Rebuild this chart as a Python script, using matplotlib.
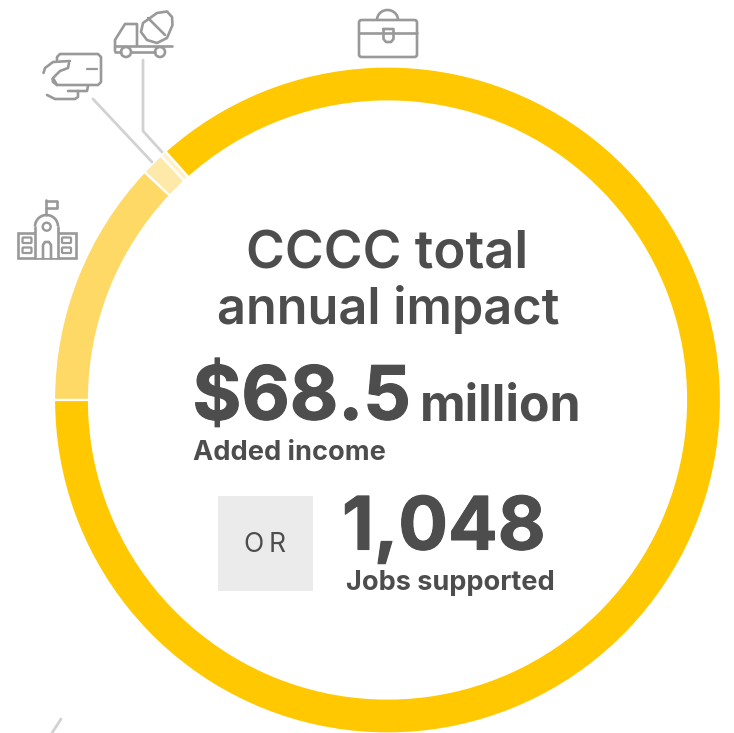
#!/usr/bin/env python
"""CCCC total annual impact: donut ring with icons and headline numbers."""
import matplotlib
matplotlib.use("Agg")
import matplotlib.pyplot as plt
import matplotlib.patheffects as pe
from matplotlib.patches import Arc, Circle, FancyBboxPatch, Polygon, Rectangle

W, H = 734, 733
INK = "#4d4d4d"
ICON = "#999999"
LEAD = "#d2d2d2"

# share of impact, clockwise from 9 o'clock
shares = [12.0, 1.1, 0.3, 86.6]
colors = ["#ffd966", "#ffe9a8", "#fff2c9", "#ffc800"]

plt.rcParams["font.family"] = ["Inter", "DejaVu Sans"]
fig = plt.figure(figsize=(W / 100, H / 100), dpi=100)
fig.patch.set_facecolor("white")

# ring
ax = fig.add_axes([0, 0, 1, 1])
ax.pie(shares, colors=colors, startangle=180, counterclock=False, radius=333.5,
       center=(387.5, H - 400), frame=True,
       wedgeprops=dict(width=35, edgecolor="white", linewidth=1.6))
ax.set_xlim(0, W); ax.set_ylim(0, H)
ax.axis("off")

# overlay in image pixels, y down
ov = fig.add_axes([0, 0, 1, 1])
ov.set_xlim(0, W); ov.set_ylim(H, 0)
ov.axis("off")
ov.patch.set_alpha(0)


def pl(xs, ys, c=ICON, lw=1.9):
    ov.plot(xs, ys, color=c, lw=lw, solid_capstyle="round", solid_joinstyle="round")


def box(x, y, w, h, r=1.5, lw=1.9):
    ov.add_patch(FancyBboxPatch((x + r, y + r), w - 2 * r, h - 2 * r,
                                boxstyle=f"round,pad={r}", fc="white", ec=ICON, lw=lw))


# leader lines
pl([93, 152], [99, 162], LEAD, 2.0)
pl([143, 143, 162], [60, 131, 152], LEAD, 2.0)
pl([61, 52], [719, 733], LEAD, 2.0)

# briefcase
ov.add_patch(Arc((387.5, 20), 21, 20, theta1=180, theta2=360, ec=ICON, lw=1.9))
box(359, 20, 58, 37, 2.5)
pl([359, 417], [33, 33])
pl([383.5, 383.5, 386, 391, 393.5, 393.5, 383.5], [29, 39, 42, 42, 39, 29, 29])

# mixer truck
egg = [(143, 23), (157, 13), (167, 11.5), (172, 17), (172.5, 25), (167, 38),
       (157, 43), (147, 40), (141, 32)]
ov.add_patch(Polygon(egg, closed=True, fc="white", ec=ICON, lw=1.9, joinstyle="round"))
pl([148, 165], [18, 35])
pl([115, 115, 125, 137, 137], [51, 40, 24, 24, 46])
pl([115, 172], [46, 46])
pl([115, 121], [52, 52])
pl([131, 155], [52, 52])
ov.add_patch(Circle((126, 52), 5, fc="white", ec=ICON, lw=1.9))
ov.add_patch(Circle((160, 52), 5, fc="white", ec=ICON, lw=1.9))

# card in hand
pl([57, 57, 60, 98, 101, 101, 98, 57, 53, 52.5], [60, 57, 54, 54, 57, 82, 85, 85, 82, 79])
pl([87, 97], [69, 69], ICON, 1.6)
pl([70, 53, 45, 43.5], [61, 62, 68, 73])
pl([69, 68, 60, 53, 57], [63, 68, 71, 78, 85])
pl([68, 87, 88], [91, 91, 86])
pl([47, 55, 75, 78, 78], [95, 99, 99, 97, 91])

# school
ov.add_patch(Rectangle((18, 232.5), 58, 25.5, fc="white", ec=ICON, lw=1.9))
ov.add_patch(Rectangle((35, 226), 23, 32, fc="white", ec="none"))
ov.add_patch(Arc((46.5, 226.5), 23, 23, theta1=180, theta2=360, ec=ICON, lw=1.9))
pl([35, 35], [226.5, 258])
pl([58, 58], [226.5, 258])
pl([45.7, 45.7], [200, 215])
pl([45.7, 57, 57, 45.7], [200.5, 200.5, 208, 208])
ov.add_patch(Circle((46.7, 226.7), 4, fc="white", ec=ICON, lw=1.7))
pl([43, 43, 45, 49, 51, 51], [258, 245, 242, 242, 245, 258])
for x in (22.5, 62):
    for y in (237.5, 247.5):
        box(x, y, 9, 5.5, 1, 1.6)

# text
heavy = [pe.withStroke(linewidth=0.8, foreground=INK)]
ov.text(387, 255, "CCCC total", ha="center", va="center", fontsize=38, fontweight="semibold", color=INK)
ov.text(388, 309, "annual impact", ha="center", va="center", fontsize=36.3, fontweight="semibold", color=INK)
ov.text(192.5, 400, "$68.5", ha="left", va="center", fontsize=53.7, fontweight="bold", color=INK, path_effects=heavy)
ov.text(420, 407, "million", ha="left", va="center", fontsize=36, fontweight="bold", color=INK)
ov.text(193, 453, "Added income", ha="left", va="center", fontsize=19.5, fontweight="bold", color=INK)
ov.add_patch(Rectangle((218, 496), 95, 95, fc="#ebebeb", ec="none"))
ov.text(265.5, 545, "O\u2009R", ha="center", va="center", fontsize=19, fontweight="normal", color=INK)
ov.text(342, 530, "1,048", ha="left", va="center", fontsize=53, fontweight="bold", color=INK, path_effects=heavy)
ov.text(346, 583, "Jobs supported", ha="left", va="center", fontsize=19.5, fontweight="bold", color=INK)

fig.savefig("out.png", dpi=100)
